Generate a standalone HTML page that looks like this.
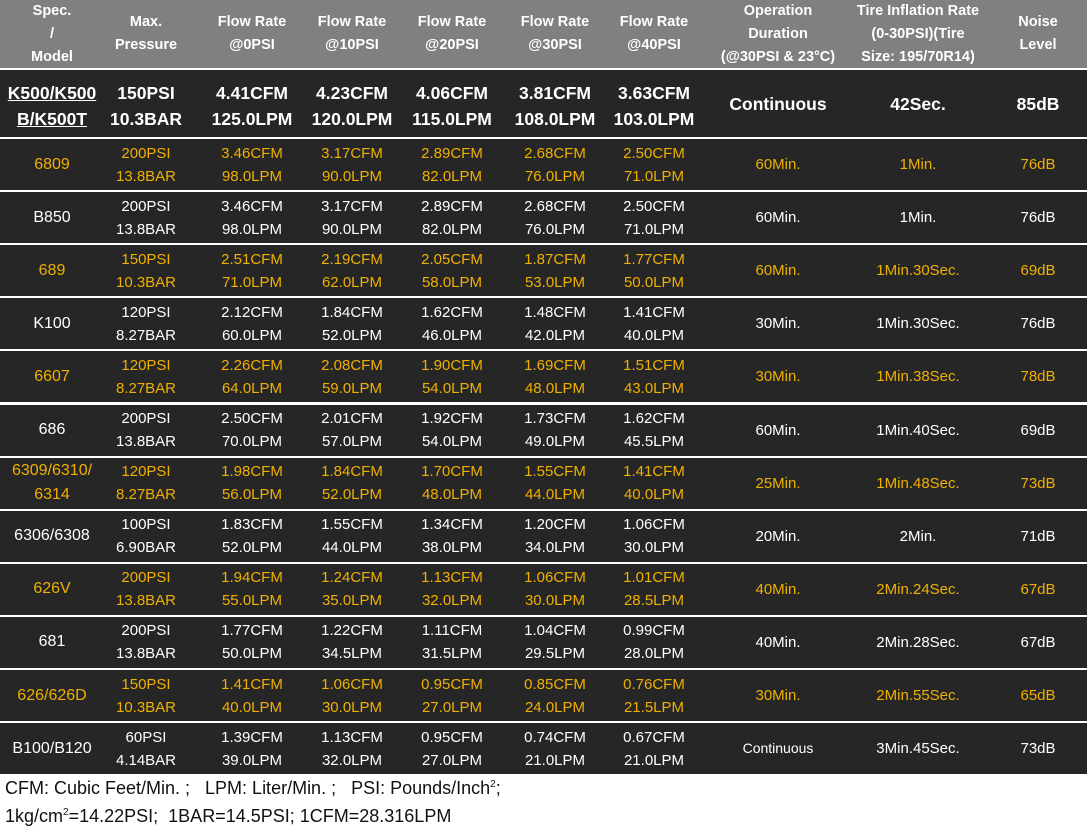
<!DOCTYPE html><html><head><style>
body{margin:0;width:1088px;height:835px;background:#fff;position:relative;font-family:"Liberation Sans",sans-serif;overflow:hidden}
.r{position:absolute;left:0;width:1087px;background:#262626;color:#fff}
.h{background:#808080;font-weight:bold;font-size:14.5px;line-height:23px}
.c{position:absolute;top:0;height:100%;display:flex;align-items:center;justify-content:center;text-align:center;transform:translateX(-50%);white-space:nowrap}
.d{font-size:15px;line-height:23px}
.o{color:#f0b000}
.k{font-weight:bold;font-size:17.5px;line-height:26px}
.f{position:absolute;left:5px;font-size:18px;color:#111}
</style></head><body>
<div class="r h" style="top:0;height:68px">
<div class="c" style="left:52px">Spec.<br>/<br>Model</div>
<div class="c" style="left:146px">Max.<br>Pressure</div>
<div class="c" style="left:252px">Flow Rate<br>@0PSI</div>
<div class="c" style="left:352px">Flow Rate<br>@10PSI</div>
<div class="c" style="left:452px">Flow Rate<br>@20PSI</div>
<div class="c" style="left:555px">Flow Rate<br>@30PSI</div>
<div class="c" style="left:654px">Flow Rate<br>@40PSI</div>
<div class="c" style="left:778px">Operation<br>Duration<br>(@30PSI &amp; 23°C)</div>
<div class="c" style="left:918px">Tire Inflation Rate<br>(0-30PSI)(Tire<br>Size: 195/70R14)</div>
<div class="c" style="left:1038px">Noise<br>Level</div>
</div>
<div class="r k" style="top:70px;height:67px">
<div class="c" style="left:52px;top:2px;text-decoration:underline">K500/K500<br>B/K500T</div>
<div class="c" style="left:146px;top:2px">150PSI<br>10.3BAR</div>
<div class="c" style="left:252px;top:2px">4.41CFM<br>125.0LPM</div>
<div class="c" style="left:352px;top:2px">4.23CFM<br>120.0LPM</div>
<div class="c" style="left:452px;top:2px">4.06CFM<br>115.0LPM</div>
<div class="c" style="left:555px;top:2px">3.81CFM<br>108.0LPM</div>
<div class="c" style="left:654px;top:2px">3.63CFM<br>103.0LPM</div>
<div class="c" style="left:778px">Continuous</div>
<div class="c" style="left:918px">42Sec.</div>
<div class="c" style="left:1038px">85dB</div>
</div>
<div id="rows"></div>
<div class="f" style="top:778px">CFM: Cubic Feet/Min. ;&nbsp;&nbsp; LPM: Liter/Min. ;&nbsp;&nbsp; PSI: Pounds/Inch<sup style="font-size:10px">2</sup>;</div>
<div class="f" style="top:806px">1kg/cm<sup style="font-size:10px">2</sup>=14.22PSI;&nbsp; 1BAR=14.5PSI; 1CFM=28.316LPM</div>
<script>
var D=[
["6809","200PSI","13.8BAR","3.46","98.0","3.17","90.0","2.89","82.0","2.68","76.0","2.50","71.0","60Min.","1Min.","76dB"],
["B850","200PSI","13.8BAR","3.46","98.0","3.17","90.0","2.89","82.0","2.68","76.0","2.50","71.0","60Min.","1Min.","76dB"],
["689","150PSI","10.3BAR","2.51","71.0","2.19","62.0","2.05","58.0","1.87","53.0","1.77","50.0","60Min.","1Min.30Sec.","69dB"],
["K100","120PSI","8.27BAR","2.12","60.0","1.84","52.0","1.62","46.0","1.48","42.0","1.41","40.0","30Min.","1Min.30Sec.","76dB"],
["6607","120PSI","8.27BAR","2.26","64.0","2.08","59.0","1.90","54.0","1.69","48.0","1.51","43.0","30Min.","1Min.38Sec.","78dB"],
["686","200PSI","13.8BAR","2.50","70.0","2.01","57.0","1.92","54.0","1.73","49.0","1.62","45.5","60Min.","1Min.40Sec.","69dB"],
["6309/6310/<br>6314","120PSI","8.27BAR","1.98","56.0","1.84","52.0","1.70","48.0","1.55","44.0","1.41","40.0","25Min.","1Min.48Sec.","73dB"],
["6306/6308","100PSI","6.90BAR","1.83","52.0","1.55","44.0","1.34","38.0","1.20","34.0","1.06","30.0","20Min.","2Min.","71dB"],
["626V","200PSI","13.8BAR","1.94","55.0","1.24","35.0","1.13","32.0","1.06","30.0","1.01","28.5","40Min.","2Min.24Sec.","67dB"],
["681","200PSI","13.8BAR","1.77","50.0","1.22","34.5","1.11","31.5","1.04","29.5","0.99","28.0","40Min.","2Min.28Sec.","67dB"],
["626/626D","150PSI","10.3BAR","1.41","40.0","1.06","30.0","0.95","27.0","0.85","24.0","0.76","21.5","30Min.","2Min.55Sec.","65dB"],
["B100/B120","60PSI","4.14BAR","1.39","39.0","1.13","32.0","0.95","27.0","0.74","21.0","0.67","21.0","Continuous","3Min.45Sec.","73dB"]];
var X=[252,352,452,555,654],h="";
D.forEach(function(d,i){var t=139+i*53.1;
h+='<div class="r d'+(i%2==0?' o':'')+'" style="top:'+t+'px;height:51px">';
h+='<div class="c" style="left:52px;font-size:16px;line-height:24px">'+d[0]+'</div>';
h+='<div class="c" style="left:146px">'+d[1]+'<br>'+d[2]+'</div>';
for(var j=0;j<5;j++)h+='<div class="c" style="left:'+X[j]+'px">'+d[3+2*j]+'CFM<br>'+d[4+2*j]+'LPM</div>';
h+='<div class="c" style="left:778px;font-size:'+(d[13]=="Continuous"?14:15)+'px">'+d[13]+'</div><div class="c" style="left:918px;font-size:15px">'+d[14]+'</div><div class="c" style="left:1038px;font-size:15px">'+d[15]+'</div></div>';});
document.getElementById("rows").innerHTML=h;
</script>
</body></html>
